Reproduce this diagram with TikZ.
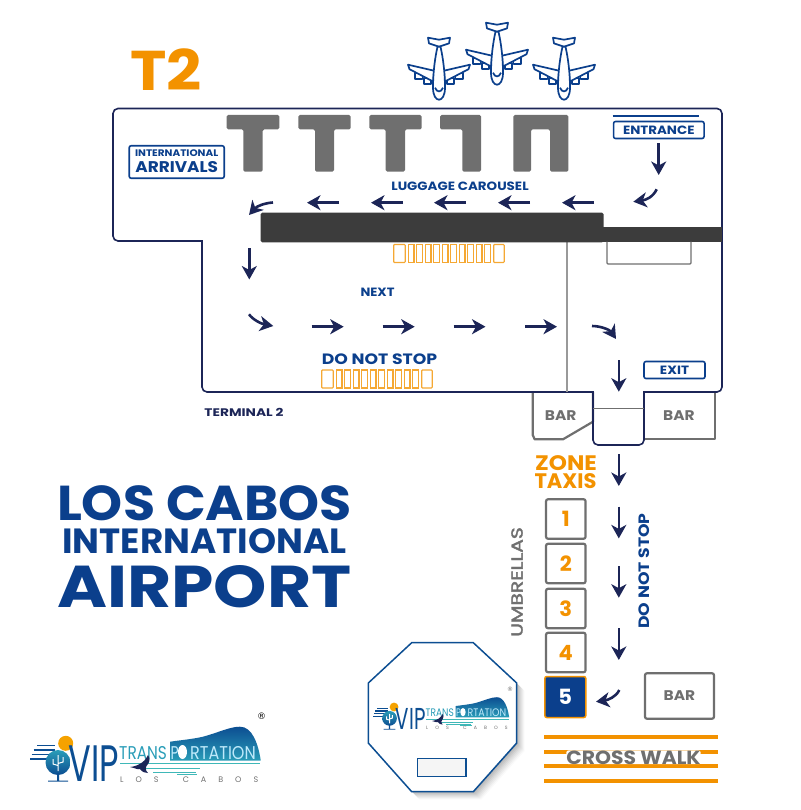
\documentclass[tikz,border=0pt]{standalone}
\usepackage{fontspec}
\usepackage{graphicx}
\setmainfont{Poppins}
\newfontfamily\symfont{DejaVu Sans}
\newfontfamily\medfont[FakeBold=2]{Poppins}
\newfontfamily\spacedfont[LetterSpace=150]{Poppins}
\usetikzlibrary{arrows.meta}
\definecolor{navy}{HTML}{1C2557}
\definecolor{vblue}{HTML}{0B3F8C}
\definecolor{vorange}{HTML}{F39200}
\definecolor{vgray}{HTML}{6F6F6F}
\definecolor{vdark}{HTML}{3C3C3C}
\definecolor{vsky}{HTML}{2A9DB8}
\definecolor{vdeep}{HTML}{0C4E92}
\definecolor{vteal}{HTML}{3FB8B8}
\newcommand\sx[2]{\scalebox{#1}[1]{#2}}
\tikzset{
 flow/.style={navy,line width=2.6pt,-{Stealth[length=13.5pt,width=15pt,inset=4pt]}},
 lab/.style={font=\bfseries\fontsize{#1}{#1}\selectfont,text=vblue,inner sep=0pt},
 glab/.style={font=\bfseries\fontsize{#1}{#1}\selectfont,text=vgray,inner sep=0pt},
 mlab/.style={font=\medfont\fontsize{#1}{#1}\selectfont,text=vgray,inner sep=0pt},
 olab/.style={font=\bfseries\fontsize{#1}{#1}\selectfont,text=vorange,inner sep=0pt},
 bluebox/.style={draw=vblue,line width=1.6pt,rounded corners=2pt,fill=white},
 graybox/.style={draw=vgray,line width=2.2pt,rounded corners=2pt,fill=white},
 wall/.style={draw=navy,line width=1.6pt},
 tee/.style={fill=vgray,rounded corners=1.5pt},
 plane/.pic={
  \begin{scope}[draw=vblue,line width=1.7pt,line join=round,fill=white]
  \filldraw (-24,35.5) rectangle (-16.5,41.5); \filldraw (-15,40.5) rectangle (-8,46.3);
  \filldraw (24,35.5) rectangle (16.5,41.5); \filldraw (15,40.5) rectangle (8,46.3);
  \filldraw (-5,33) -- (-31,27) -- (-29.5,31.5) -- (-5.5,44) -- cycle;
  \filldraw (5,33) -- (31,27) -- (29.5,31.5) -- (5.5,44) -- cycle;
  \filldraw (-11,0) -- (0,2) -- (11,0) -- (10,5.7) -- (0,9) -- (-10,5.7) -- cycle;
  \filldraw (-1.5,9) .. controls (-4,20) and (-6,35) .. (-6,50) .. controls (-6,58) and (-3,62) .. (0,62) .. controls (3,62) and (6,58) .. (6,50) .. controls (6,35) and (4,20) .. (1.5,9) -- cycle;
  \draw (-4,50) .. controls (-2,55) and (2,55) .. (4,50);
  \end{scope}
 },
 stall/.pic={
  \draw[vorange!80,line width=1.1pt,rounded corners=.8pt] (0,0) rectangle (11.5,18);
  \foreach \i in {0,...,9} \draw[vorange!80,line width=1.1pt] ({14.5+\i*8.5},0) rectangle ({20.3+\i*8.5},18);
  \draw[vorange!80,line width=1.1pt,rounded corners=.8pt] (100,0) rectangle (110.5,18);
 },
 vip/.pic={
  \draw[vdeep,line width=1.1pt] (7,.7) -- (25,.7) (3.5,5) -- (25,5) (1.5,9.5) -- (25,9.5) (0,14) -- (25,14);
  \fill[vorange!85!yellow] (35.7,-1.7) circle (7.5);
  \shade[top color=vsky,bottom color=vdeep] (28,17.5) circle (12.5);
  \fill[vdeep] (27,28) rectangle (29,35.5) (18,35.5) -- (38,35.5) -- (38,36.7) -- (18,36.7) -- cycle;
  \draw[white,line width=1pt] (28,10) -- (28,26) (23,14) -- (23,19) -- (28,20.5) (33,12) -- (33,17) -- (28,18.5);
  \node[inner sep=0pt,anchor=center,text=vdeep,font=\fontsize{28}{28}\selectfont] at (64,18.3) {\scalebox{1.2}[1.83]{VIP}};
  \shade[left color=vdeep,right color=vsky,shading angle=0] (140,-3.3) .. controls (152,-5) and (163,-6) .. (173,-8.3) .. controls (190,-13) and (200,-18.3) .. (210,-18.3) .. controls (222,-18.3) and (228,-2) .. (230.7,15) -- (230.7,15.7) -- (140,15.7) -- cycle;
  \fill[white] (152.5,7) ellipse (4.5 and 7);
  \node[inner sep=0pt,anchor=west,text=vsky,font=\fontsize{16.5}{16.5}\selectfont] at (89,8.5) {\scalebox{.93}[1.12]{TRANS}};
  \node[inner sep=0pt,anchor=west,text=cyan!25!white,font=\fontsize{16.5}{16.5}\selectfont] at (140.5,8.5) {\scalebox{.85}[1.12]{P}};
  \node[inner sep=0pt,anchor=west,text=cyan!25!white,font=\fontsize{16.5}{16.5}\selectfont] at (160,8.5) {\scalebox{.97}[1.12]{RTATION}};
  \foreach \x/\y/\w in {90/18/140,113/23/57,123/26.7/43,147/29/20} \fill[vteal] (\x,\y) rectangle +(\w,.9);
  \fill[navy] (118,10) .. controls (116,15) and (110,21) .. (100,22) .. controls (105,23) and (108,25) .. (110,24) .. controls (112,27) and (115,28) .. (118,28) .. controls (115,25) and (115,22) .. (118,19) .. controls (120,16) and (120,13) .. (118,10) -- cycle;
  \node[inner sep=0pt,anchor=west,text=vgray,font=\spacedfont\fontsize{8}{8}\selectfont] at (90,34.3) {LOS\hspace{10pt} CABOS};
 }
}
\begin{document}
\begin{tikzpicture}[x=1pt,y=-1pt]
\useasboundingbox (0,0) rectangle (800,810);
% title
\node[olab=56,anchor=center] (t2) at (166,70) {\sx{1.1}{T2}};
\pic at (439,37.7) {plane};
\pic at (497,22.7) {plane};
\pic at (564,37.7) {plane};
% bar boxes under wall
\draw[vgray,line width=2.2pt,line join=round,fill=white] (532.7,392) -- (532.7,435) -- (534.7,439.3) -- (563,439.3) -- (593,421.7) -- (593,392);
\draw[vgray,line width=2.2pt,line join=round,fill=white] (644,392) -- (715,392) -- (715,439.3) -- (644,439.3);
% terminal wall
\draw[wall,rounded corners=5pt] (113,150) -- (113,108.5) -- (722,108.5) -- (722,392) -- (650,392) [sharp corners] -- (644,392) [rounded corners=5pt] -- (644,445) -- (593,445) -- (593,398) [sharp corners] -- (593,392) [rounded corners=5pt] -- (202,392) -- (202,247) [sharp corners] -- (202,241) [rounded corners=5pt] -- (113,241) -- (113,150) -- cycle;
\draw[vgray,line width=1.2pt] (593,408.7) -- (644,408.7);
\draw[gray!80,line width=1.4pt] (567,240) -- (567,392);
% tees
\path[tee] (226.7,115) -- (279.3,115) -- (279.3,129.3) -- (262.7,129.3) -- (262.7,171.7) -- (243.3,171.7) -- (243.3,129.3) -- (226.7,129.3) -- cycle;
\path[tee] (298.3,115) -- (350.7,115) -- (350.7,129.3) -- (334,129.3) -- (334,171.7) -- (315,171.7) -- (315,129.3) -- (298.3,129.3) -- cycle;
\path[tee] (369.3,115) -- (421.7,115) -- (421.7,129.3) -- (405,129.3) -- (405,171.7) -- (385.7,171.7) -- (385.7,129.3) -- (369.3,129.3) -- cycle;
\path[tee] (440,115) -- (481,115) -- (481,171.7) -- (462.3,171.7) -- (462.3,129.3) -- (440,129.3) -- cycle;
\path[tee] (513.3,115) -- (568.3,115) -- (568.3,171.7) -- (550,171.7) -- (550,129.3) -- (531,129.3) -- (531,171.7) -- (513.3,171.7) -- cycle;
% belt
\fill[vdark,rounded corners=1.5pt] (260.7,212.7) rectangle (603.5,242.3);
\fill[vdark] (600,227.3) rectangle (722,241.7);
\draw[vgray,line width=1.2pt,rounded corners=1pt] (607,241.7) -- (607,264) -- (691,264) -- (691,241.7);
% labels
\node[bluebox,minimum width=95pt,minimum height=32.5pt] (arr) at (176.7,162) {};
\node[lab=9.5,anchor=center] (intl) at (176.7,153.5) {\sx{1.1}{INTERNATIONAL}};
\node[lab=15.5,anchor=center] (arrv) at (176.7,166.7) {\sx{1.09}{ARRIVALS}};
\draw[vblue,line width=1.8pt] (612.7,115.7) -- (699,115.7);
\node[bluebox,minimum width=90.5pt,minimum height=17pt,lab=12,anchor=center] (ent) at (658.8,130) {\sx{1.12}{ENTRANCE}};
\node[lab=12] (lug) at (460,186) {\sx{1.118}{LUGGAGE CAROUSEL}};
\node[lab=12] (nxt) at (377.5,292) {\sx{1.09}{NEXT}};
\node[lab=15] (dns) at (379.5,359) {\sx{1.15}{DO NOT STOP}};
\node[bluebox,minimum width=61pt,minimum height=17pt,lab=12,anchor=center] (ex) at (674.5,370) {\sx{1.13}{EXIT}};
\node[font=\bfseries\fontsize{11}{11}\selectfont,text=navy,inner sep=0pt] (term) at (244,412) {\sx{1.25}{TERMINAL 2}};
\node[glab=14] (bar1) at (560.7,416) {\sx{1.1}{BAR}};
\node[glab=14] (bar2) at (679,416) {\sx{1.1}{BAR}};
\pic at (393.7,244.5) {stall};
\pic at (321.7,370) {stall};
% arrows
\coordinate (e1) at (658.7,143.3); \coordinate (e2) at (658.7,175);
\draw[flow] (e1) -- (e2);
\coordinate (c1) at (656.7,189.3); \coordinate (c2) at (633.3,201.7);
\draw[flow] (c1) .. controls (653,197) and (646,200) .. (c2);
\foreach \x in {594,530,466,403,339} {
 \coordinate (la) at (\x,202.7); \coordinate (lb) at (\x-32,202.7);
 \draw[flow] (la) -- (lb);
}
\coordinate (c3) at (273,202.5); \coordinate (c4) at (249,215);
\draw[flow] (c3) .. controls (265,203) and (257,206) .. (c4);
\coordinate (d1) at (249.3,248.3); \coordinate (d2) at (249.3,279.5);
\draw[flow] (d1) -- (d2);
\coordinate (c5) at (249,314.3); \coordinate (c6) at (273.3,326);
\draw[flow] (c5) .. controls (253,320) and (262,324) .. (c6);
\foreach \x in {311.7,382.7,453.5,525} {
 \coordinate (ra) at (\x,326.7); \coordinate (rb) at (\x+32,326.7);
 \draw[flow] (ra) -- (rb);
}
\coordinate (c7) at (592,326); \coordinate (c8) at (616,339);
\draw[flow] (c7) .. controls (601,326) and (610,330) .. (c8);
\foreach \y in {360,454.3,506.7,566,628.3} {
 \coordinate (da) at (618.8,\y); \coordinate (db) at (618.8,\y+31.7);
 \draw[flow] (da) -- (db);
}
\coordinate (c9) at (619.3,690); \coordinate (c10) at (596,701.7);
\draw[flow] (c9) .. controls (616,697) and (608,700) .. (c10);
% zone
\node[olab=21,anchor=center] (zone) at (566,462.7) {\sx{1.1}{ZONE}};
\node[olab=21,anchor=center] (taxis) at (565.5,481) {TAXIS};
\foreach \n/\y in {1/519,2/563.5,3/608.5,4/652.5} {
 \node[graybox,minimum width=39.5pt,minimum height=39.5pt,olab=21] (z\n) at (565.8,\y) {\n};
}
\node[draw=vorange,fill=vblue,line width=1.5pt,rounded corners=2pt,minimum width=41pt,minimum height=41pt,font=\bfseries\fontsize{21}{21}\selectfont,text=white,inner sep=0pt] (z5) at (565.3,697) {5};
\node[mlab=16,rotate=90] (umb) at (517,582) {\sx{1.27}{UMBRELLAS}};
\node[lab=15,rotate=90] (dn2) at (644,571) {\sx{1.15}{DO NOT STOP}};
\node[graybox,minimum width=69pt,minimum height=45.5pt,glab=14] (bar3) at (679.5,696) {\sx{1.1}{BAR}};
% crosswalk
\foreach \y in {736.7,751.7,766,781} \fill[vorange] (544,\y-2) rectangle (717.7,\y+2);
\node[fill=white,rounded corners=2pt,inner xsep=1.5pt,inner ysep=1pt,glab=19] (cw) at (633.5,757.3) {\sx{1.07}{CROSS WALK}};
% title big
\node[lab=49] (los) at (204.5,503) {\sx{1.065}{LOS CABOS}};
\node[lab=35] (intl2) at (204.5,541) {\sx{1.02}{INTERNATIONAL}};
\node[lab=59] (air) at (204.5,587) {\sx{1.15}{AIRPORT}};
% octagon
\foreach \d/\o in {8/.02,7/.03,6/.035,5/.04,4/.045,3/.05,2/.05,1/.05}
  \fill[black,opacity=\o] (411.7+\d,642.7+\d) -- (473.3+\d,642.7+\d) -- (516.7+\d,683+\d) -- (516.7+\d,743+\d) -- (473.3+\d,791.7+\d) -- (411.7+\d,791.7+\d) -- (368.3+\d,743+\d) -- (368.3+\d,683+\d) -- cycle;
\draw[vdeep,line width=1.5pt,fill=white] (411.7,642.7) -- (473.3,642.7) -- (516.7,683) -- (516.7,743) -- (473.3,791.7) -- (411.7,791.7) -- (368.3,743) -- (368.3,683) -- cycle;
\draw[vdeep,line width=1.4pt,fill=gray!8] (417.3,758.3) rectangle (466,776.7);
\begin{scope}[shift={(373,708)},scale=.59,transform shape]
\pic at (0,0) {vip};
\end{scope}
\node[text=vgray,font=\symfont\fontsize{6}{6}\selectfont,inner sep=0pt] (r1) at (510,689) {®};
% logo
\pic at (30,745) {vip};
\node[text=black,font=\symfont\fontsize{9}{9}\selectfont,inner sep=0pt] (r2) at (261.7,716) {®};
\end{tikzpicture}
\end{document}
